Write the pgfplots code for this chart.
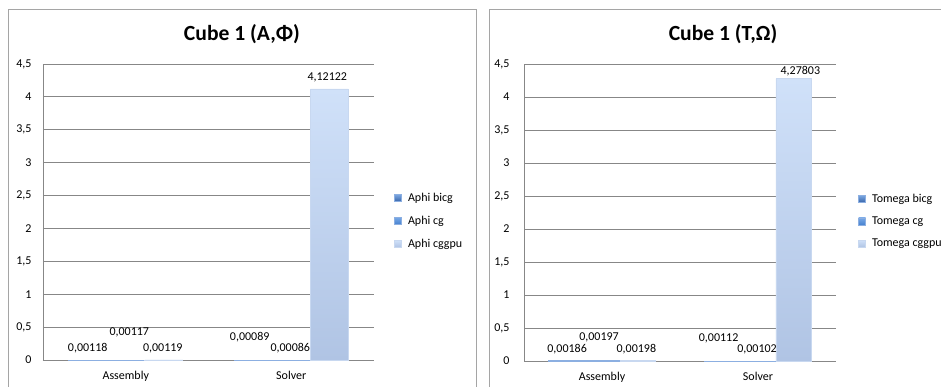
\documentclass[border=0pt]{standalone}
\usepackage{fontspec}
\setmainfont{Carlito}
\usepackage{pgfplots}
\pgfplotsset{compat=1.18}
\definecolor{gridgray}{RGB}{135,135,135}
\definecolor{framegray}{RGB}{165,165,165}
\definecolor{bicgtop}{RGB}{122,166,224}
\definecolor{bicgbot}{RGB}{55,100,170}
\definecolor{cgtop}{RGB}{120,168,230}
\definecolor{cgbot}{RGB}{70,130,208}
\definecolor{gputop}{RGB}{208,225,249}
\definecolor{gpubot}{RGB}{176,196,228}
\definecolor{bicgline}{RGB}{140,175,225}
\definecolor{gpuline}{RGB}{200,216,240}
\newcommand\smallfont{\fontsize{12bp}{14bp}\selectfont}
\newcommand\titlefont{\fontsize{21.6bp}{26bp}\selectfont\bfseries}
\pgfplotsset{
  cubestyle/.style={
    scale only axis,
    ymin=0, ymax=4.5, ytick={0,0.5,...,4.5},
    xmin=-0.5, xmax=1.5, xtick={0,1}, xticklabels={Assembly,Solver},
    ybar=0pt, bar width=0.23,
    axis x line*=bottom, axis y line*=left,
    axis line style={draw=gridgray, line width=0.8bp, -},
    ymajorgrids, major grid style={draw=gridgray, line width=0.8bp},
    major tick length=0pt,
    tick label style={font=\smallfont},
    /pgf/number format/assume math mode=true,
    yticklabel style={/pgf/number format/use comma, xshift=-8bp},
    xticklabel style={yshift=-8bp},
    title style={font=\titlefont, anchor=center},
    legend cell align=left,
    legend style={draw=none, fill=none, font=\smallfont, anchor=west, row sep=11bp, column sep=5bp, inner sep=0pt, nodes={inner sep=1bp}},
    legend image code/.code={\fill[##1] (0bp,-3.5bp) rectangle (7bp,3.5bp);},
    clip=false,
  },
  lbl/.style={
    nodes near coords, point meta=explicit symbolic,
    visualization depends on={\thisrow{dx}\as\dx},
    visualization depends on={\thisrow{dy}\as\dy},
    nodes near coords style={font=\smallfont, anchor=center, xshift=\dx*1bp, yshift=12bp+\dy*1bp, text=black},
  },
  bicgbar/.style={lbl, top color=bicgtop, bottom color=bicgbot, draw=bicgline, line width=0.8bp},
  cgbar/.style={lbl, top color=cgtop, bottom color=cgbot, draw=bicgline, line width=0.8bp},
  gpubar/.style={lbl, top color=gputop, bottom color=gpubot, draw=gpuline, line width=0.8bp},
}
\begin{document}
\begin{tikzpicture}
\useasboundingbox (0,0) rectangle (941bp,387bp);
\draw[framegray, line width=0.8bp] (8bp,-20bp) rectangle (476bp,378bp);
\draw[framegray, line width=0.8bp] (489bp,-20bp) rectangle (960bp,378bp);
\begin{axis}[cubestyle, at={(43bp,27bp)}, anchor=south west, width=331bp, height=296bp,
  title={Cube 1 (A,Φ)}, title style={at={(axis description cs:0.601,1.08)}},
  legend style={at={(axis description cs:1.0605,0.47)}}]
\addplot[bicgbar] table[meta=lab] {
x y lab dx dy
0 0.00118 0,00118 0 0
1 0.00089 0,00089 -3.5 11
};
\addplot[cgbar] table[meta=lab] {
x y lab dx dy
0 0.00117 0,00117 3.5 16
1 0.00086 0,00086 -1 0
};
\addplot[gpubar] table[meta=lab] {
x y lab dx dy
0 0.00119 0,00119 -1 0
1 4.12122 4,12122 -2 0
};
\legend{Aphi bicg, Aphi cg, Aphi cggpu}
\end{axis}
\begin{axis}[cubestyle, at={(524bp,26bp)}, anchor=south west, width=312bp, height=297bp,
  title={Cube 1 (T,Ω)}, title style={at={(axis description cs:0.638,1.08)}},
  yticklabel style={xshift=-3bp},
  legend style={at={(axis description cs:1.0705,0.471)}}]
\addplot[bicgbar] table[meta=lab] {
x y lab dx dy
0 0.00186 0,00186 1 0
1 0.00112 0,00112 -3.5 11
};
\addplot[cgbar] table[meta=lab] {
x y lab dx dy
0 0.00197 0,00197 -3 11
1 0.00102 0,00102 -1 0
};
\addplot[gpubar] table[meta=lab] {
x y lab dx dy
0 0.00198 0,00198 -1.5 0
1 4.27803 4,27803 6.5 -4.4
};
\legend{Tomega bicg, Tomega cg, Tomega cggpu}
\end{axis}
\end{tikzpicture}
\end{document}
